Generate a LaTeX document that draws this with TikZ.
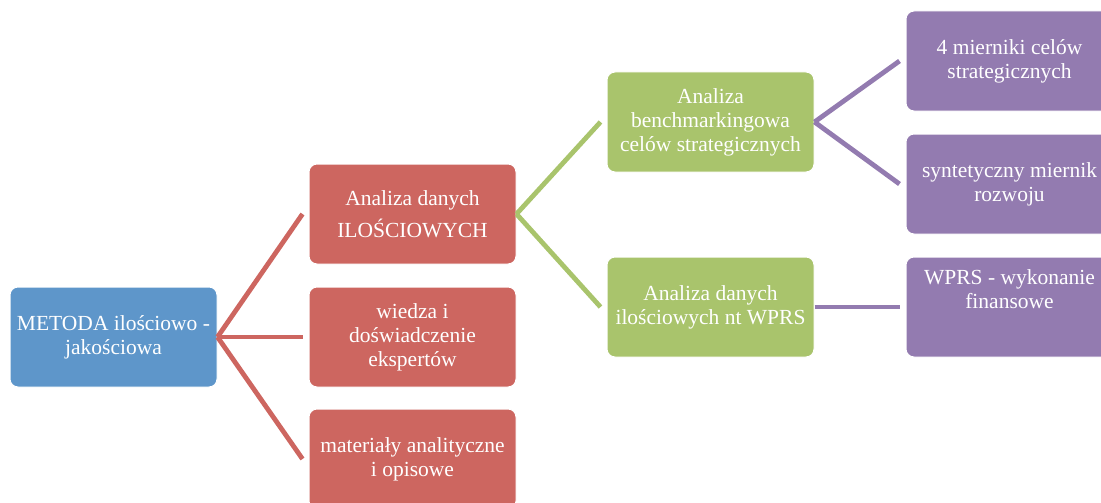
\documentclass[tikz,border=0pt]{standalone}
\usepackage{fontspec}
\setmainfont{Liberation Serif}
\usepackage{tikz}
\usetikzlibrary{positioning,calc}
\usepackage{xcolor}
\definecolor{mblue}{HTML}{5E96CA}
\definecolor{mred}{HTML}{CD6660}
\definecolor{mgreen}{HTML}{A9C46C}
\definecolor{mpurple}{HTML}{937BB0}

\begin{document}
\begin{tikzpicture}[x=1pt, y=-1pt,
    box/.style={draw=white, line width=1pt, rounded corners=8pt,
                minimum height=100pt, minimum width=207pt, inner xsep=0pt,
                align=center, text=white},
    link/.style={line width=4.8pt},
    every node/.style={font=\fontsize{21.5}{24}\selectfont}
  ]
    \useasboundingbox (0,0) rectangle (1101,503);
    \clip (0,0) rectangle (1101,503);

    % Root
    \node[box, fill=mblue] (metoda) at (113.5,337) {METODA ilościowo -\\jakościowa};

    % Sources
    \node[box, fill=mred] (ilosc) at (412.5,214) {Analiza danych\\[8pt]ILOŚCIOWYCH};
    \node[box, fill=mred] (wiedza) at (412.5,337) {wiedza i\\doświadczenie\\ekspertów};
    \node[box, fill=mred] (mater) at (412.5,459) {materiały analityczne\\i opisowe};

    % Analyses
    \node[box, fill=mgreen] (bench) at (710.5,122) {Analiza\\benchmarkingowa\\celów strategicznych};
    \node[box, fill=mgreen] (wprs) at (710.5,307) {Analiza danych\\ilościowych nt WPRS};

    % Results
    \node[box, fill=mpurple] (miern) at (1009.5,61) {4 mierniki celów\\strategicznych};
    \node[box, fill=mpurple] (synt) at (1009.5,184) {syntetyczny miernik\\rozwoju};
    \node[box, fill=mpurple] (finans) at (1009.5,307) {WPRS - wykonanie\\finansowe\\[12pt]};

    % Links
    \draw[link, mred] (metoda.east) -- ([xshift=-6pt]ilosc.west);
    \draw[link, mred] (metoda.east) -- ([xshift=-6pt]wiedza.west);
    \draw[link, mred] (metoda.east) -- ([xshift=-6pt]mater.west);
    \draw[link, mgreen] (ilosc.east) -- ([xshift=-6pt]bench.west);
    \draw[link, mgreen] (ilosc.east) -- ([xshift=-6pt]wprs.west);
    \draw[link, mpurple] (bench.east) -- ([xshift=-6pt]miern.west);
    \draw[link, mpurple] (bench.east) -- ([xshift=-6pt]synt.west);
    \draw[link, mpurple] (wprs.east) -- ([xshift=-6pt]finans.west);
  \end{tikzpicture}
\end{document}
